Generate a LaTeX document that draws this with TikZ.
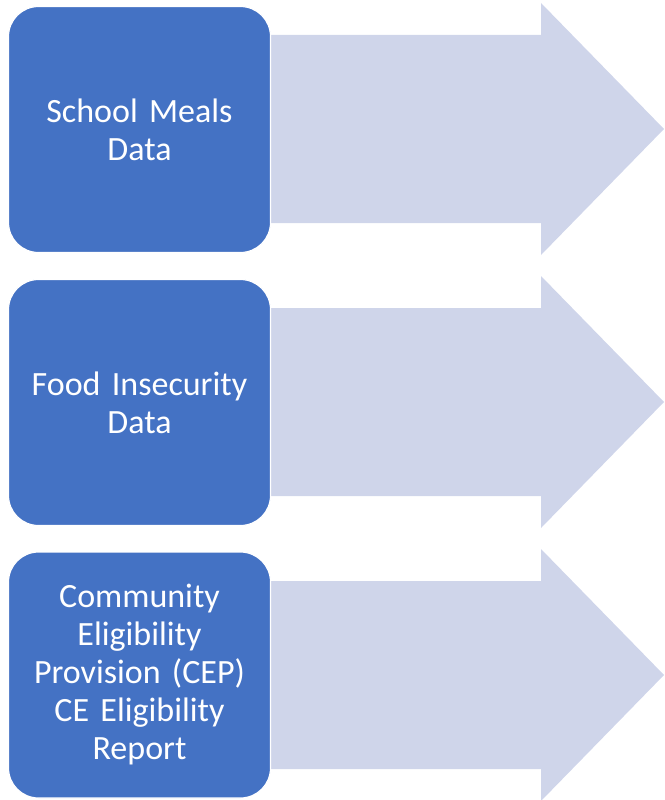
\documentclass[tikz,border=0pt]{standalone}
\usepackage{fontspec}
\setmainfont{Carlito}
\definecolor{boxblue}{HTML}{4472C4}
\definecolor{arrowlav}{HTML}{CFD5EA}
\tikzset{
    databox/.style={fill=boxblue, draw=white, line width=1.2pt, rounded corners=30pt,
        minimum width=262pt, minimum height=246pt, text width=250pt, align=center,
        text=white, font=\fontsize{34}{38}\selectfont},
    bigarrow/.style={fill=arrowlav}
}
\begin{document}
\begin{tikzpicture}[x=1pt,y=-1pt]
        \useasboundingbox (0,0) rectangle (664,800);
        % Pfeile
        \fill[bigarrow] (270,35) -- (541,35) -- (541,3) -- (664,129) -- (541,255) -- (541,223) -- (270,223) -- cycle;
        \fill[bigarrow] (270,308) -- (541,308) -- (541,276) -- (664,402) -- (541,528) -- (541,496) -- (270,496) -- cycle;
        \fill[bigarrow] (270,581) -- (541,581) -- (541,549) -- (664,675) -- (541,801) -- (541,769) -- (270,769) -- cycle;
        % Kaesten
        \node[databox] (meals) at (139.5,129.5) {School Meals\\Data};
        \node[databox] (insecurity) at (139.5,402.5) {Food Insecurity\\Data};
        \node[databox] (cep) at (139.5,675) {Community\\Eligibility\\Provision (CEP)\\CE Eligibility\\Report};
    \end{tikzpicture}
\end{document}
